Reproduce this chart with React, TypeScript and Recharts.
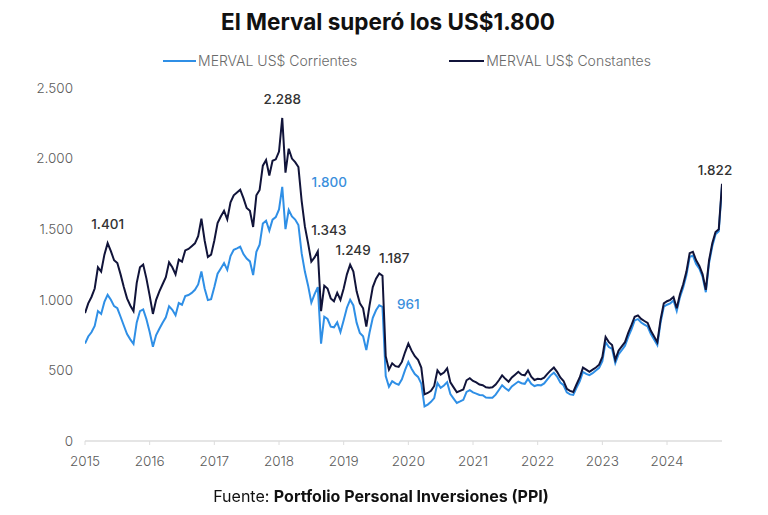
import React from "react";
import { LineChart, Line, XAxis, YAxis, Legend, LabelList } from "recharts";

// Time grid: one observation every 0.05 years from Jan 2015
const START_YEAR = 2015;
const STEP_YEARS = 0.05;

const constantes: number[] = [
  906, 975, 1020, 1080, 1230, 1200, 1320, 1401, 1345, 1280,
  1260, 1180, 1090, 1010, 960, 920, 1120, 1230, 1250, 1150,
  1030, 900, 1000, 1060, 1110, 1160, 1265, 1230, 1180, 1285,
  1270, 1350, 1360, 1380, 1400, 1450, 1575, 1420, 1303, 1320,
  1420, 1544, 1590, 1630, 1570, 1690, 1740, 1760, 1780, 1720,
  1650, 1630, 1516, 1740, 1778, 1950, 1990, 1880, 1985, 1995,
  2050, 2288, 1900, 2070, 2000, 1975, 1940, 1700, 1520, 1400,
  1270, 1300, 1343, 920, 1100, 1080, 1010, 990, 1050, 1000,
  1080, 1180, 1249, 1200, 1060, 975, 940, 810, 960, 1090,
  1150, 1187, 1170, 600, 505, 550, 530, 525, 560, 630,
  690, 640, 600, 575, 520, 330, 340, 355, 390, 500,
  470, 485, 515, 415, 380, 345, 355, 365, 430, 445,
  425, 415, 400, 395, 380, 378, 380, 400, 430, 465,
  440, 420, 450, 470, 490, 470, 465, 500, 455, 432,
  440, 438, 448, 475, 500, 520, 490, 450, 425, 370,
  355, 347, 400, 450, 520, 505, 490, 505, 520, 540,
  595, 736, 700, 680, 575, 640, 670, 700, 765, 820,
  880, 890, 865, 850, 836, 780, 740, 700, 860, 975,
  990, 1000, 1020, 940, 1040, 1110, 1200, 1330, 1340, 1280,
  1240, 1180, 1070, 1280, 1400, 1480, 1500, 1822,
];

const corrientes: number[] = [
  690, 740, 770, 815, 920, 900, 985, 1035, 1000, 955,
  940, 880, 818, 757, 720, 688, 840, 920, 932, 862,
  772, 668, 750, 795, 838, 876, 955, 929, 891, 977,
  965, 1026, 1034, 1049, 1071, 1109, 1200, 1080, 998, 1005,
  1090, 1185, 1222, 1260, 1212, 1310, 1354, 1364, 1376, 1324,
  1292, 1272, 1175, 1340, 1390, 1540, 1560, 1490, 1568, 1586,
  1640, 1800, 1500, 1636, 1590, 1568, 1530, 1330, 1200, 1100,
  980, 1040, 1090, 690, 880, 864, 810, 805, 840, 772,
  855, 944, 1000, 960, 838, 765, 742, 644, 768, 872,
  926, 961, 950, 460, 384, 424, 408, 399, 437, 504,
  560, 512, 474, 454, 406, 245, 258, 277, 304, 410,
  376, 393, 417, 332, 300, 269, 280, 292, 348, 360,
  344, 336, 326, 324, 308, 306, 306, 328, 361, 395,
  374, 357, 387, 404, 421, 409, 405, 440, 405, 389,
  396, 394, 408, 437, 465, 484, 456, 414, 395, 344,
  330, 326, 376, 423, 489, 475, 466, 480, 499, 518,
  565, 700, 665, 653, 552, 614, 643, 675, 738, 791,
  854, 863, 839, 824, 811, 757, 718, 679, 838, 951,
  965, 975, 995, 921, 1019, 1088, 1176, 1303, 1313, 1254,
  1221, 1162, 1054, 1261, 1379, 1465, 1485, 1805,
];

const yearTicks: number[] = [2015, 2016, 2017, 2018, 2019, 2020, 2021, 2022, 2023, 2024];
const valueTicks: number[] = [0, 500, 1000, 1500, 2000, 2500];

// indices of annotated points
const constantesNotes: number[] = [7, 61, 72, 82, 91, 197];
const corrientesNotes: number[] = [61, 91];

const data = constantes.map((v, i) => ({
  t: +(START_YEAR + i * STEP_YEARS).toFixed(3),
  cons: v,
  corr: corrientes[i],
}));

const FONT = "Inter, 'Noto Sans', sans-serif";
const DARK = "#11143a";
const BLUE = "#2f8fe6";

const fmt = (v: number) => {
  const s = Math.round(v).toString();
  return s.replace(/\B(?=(\d{3})+(?!\d))/g, ".");
};

const darkOffsets: Record<number, [number, number]> = {
  7: [0, -19],
  61: [0, -19],
  72: [11, -21],
  82: [3, -15],
  91: [15, -15],
  197: [-7, -14],
};
const blueOffsets: Record<number, [number, number]> = {
  61: [47, -5],
  91: [29, -1],
};

const makeLabel = (notes: number[], offsets: Record<number, [number, number]>, color: string) =>
  (props: any) => {
    const { x, y, index, value } = props;
    if (!notes.includes(index)) return null;
    const [dx, dy] = offsets[index] || [0, -16];
    return (
      <text
        x={x + dx}
        y={y + dy}
        textAnchor="middle"
        dominantBaseline="central"
        fontFamily={FONT}
        fontSize={13.5}
        fontWeight={500}
        fill={color}
      >
        {fmt(value)}
      </text>
    );
  };

const renderLegend = () => {
  const items = [
    { name: "MERVAL US$ Corrientes", color: BLUE, len: 33 },
    { name: "MERVAL US$ Constantes", color: DARK, len: 35 },
  ];
  return (
    <div
      style={{
        display: "flex",
        justifyContent: "center",
        gap: 92,
        paddingLeft: 46,
        fontFamily: FONT,
        fontSize: 14,
        fontWeight: 300,
        color: "#6a6a6a",
        lineHeight: "17px",
      }}
    >
      {items.map((it) => (
        <div key={it.name} style={{ display: "flex", alignItems: "center" }}>
          <div style={{ width: it.len, height: 2, background: it.color, marginRight: 2 }} />
          <span>{it.name}</span>
        </div>
      ))}
    </div>
  );
};

export default function App() {
  return (
    <div
      style={{
        position: "fixed",
        left: 0,
        top: 0,
        width: 768,
        height: 515,
        background: "#fff",
        fontFamily: FONT,
      }}
    >
      <div
        style={{
          position: "absolute",
          top: 9,
          left: 4,
          width: 768,
          textAlign: "center",
          fontSize: 22.5,
          fontWeight: 700,
          color: "#111",
          lineHeight: "26px",
        }}
      >
        El Merval superó los US$1.800
      </div>
      <LineChart
        width={768}
        height={515}
        data={data}
        margin={{ top: 88, right: 46, bottom: 44, left: 25 }}
      >
        <XAxis
          dataKey="t"
          type="number"
          domain={[2015, 2024.85]}
          ticks={yearTicks}
          allowDataOverflow
          height={30}
          axisLine={{ stroke: "#dcdcdc", strokeWidth: 1.5 }}
          tickLine={{ stroke: "#dcdcdc" }}
          tickSize={4}
          tickMargin={11}
          tick={{ fill: "#5a5a5a", fontSize: 13.5, fontFamily: FONT, fontWeight: 300 }}
        />
        <YAxis
          type="number"
          domain={[0, 2500]}
          ticks={valueTicks}
          width={60}
          axisLine={false}
          tickLine={false}
          tickSize={0}
          tickMargin={12}
          tickFormatter={fmt}
          tick={{ fill: "#5a5a5a", fontSize: 13.5, fontFamily: FONT, fontWeight: 300 }}
        />
        <Legend
          verticalAlign="middle"
          align="center"
          layout="horizontal"
          content={renderLegend}
          wrapperStyle={{ top: 52, left: 0, width: 768 }}
        />
        <Line
          type="linear"
          dataKey="corr"
          name="MERVAL US$ Corrientes"
          stroke={BLUE}
          strokeWidth={2}
          dot={false}
          isAnimationActive={false}
        >
          <LabelList dataKey="corr" content={makeLabel(corrientesNotes, blueOffsets, "#3a8fdc")} />
        </Line>
        <Line
          type="linear"
          dataKey="cons"
          name="MERVAL US$ Constantes"
          stroke={DARK}
          strokeWidth={2}
          dot={false}
          isAnimationActive={false}
        >
          <LabelList dataKey="cons" content={makeLabel(constantesNotes, darkOffsets, "#333")} />
        </Line>
      </LineChart>
      <div
        style={{
          position: "absolute",
          top: 486,
          left: -3,
          width: 768,
          textAlign: "center",
          fontSize: 16,
          color: "#111",
          lineHeight: "20px",
        }}
      >
        Fuente: <b>Portfolio Personal Inversiones (PPI)</b>
      </div>
    </div>
  );
}
